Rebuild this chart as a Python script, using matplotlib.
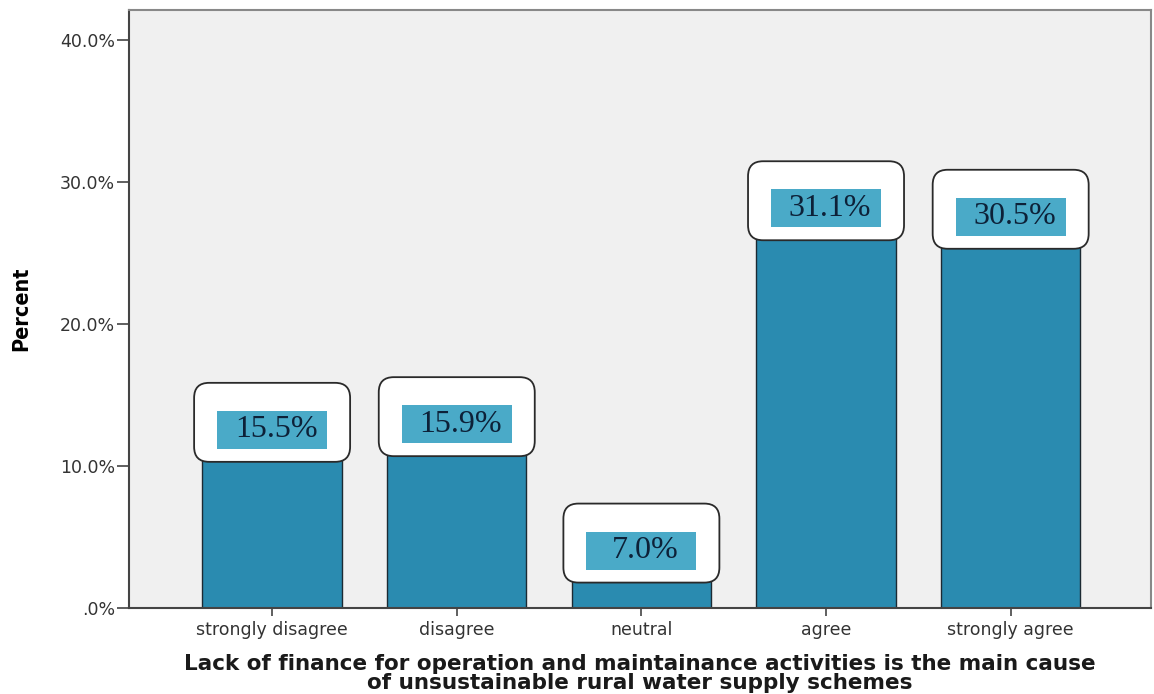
import matplotlib.pyplot as plt
import matplotlib.transforms as mtransforms
from matplotlib.patches import FancyBboxPatch, Rectangle

categories = ["strongly disagree", "disagree", "neutral", "agree", "strongly agree"]
percent = [15.5, 15.9, 7.0, 31.1, 30.5]
yticks = [0, 10, 20, 30, 40]
ytick_labels = [".0%", "10.0%", "20.0%", "30.0%", "40.0%"]

bar_color = "#2a8bb0"
label_fill = "#4aaac8"

plt.rcParams["font.family"] = ["DejaVu Sans"]

fig = plt.figure(figsize=(11.54, 6.94), dpi=100)
ax = fig.add_axes([0.1118, 0.1239, 0.8856, 0.8617])
ax.set_facecolor("#f0f0f0")

x = list(range(len(categories)))
ax.bar(x, percent, width=0.755, color=bar_color, edgecolor="#1c2a33", linewidth=1.0, zorder=2)

ax.set_xlim(-0.775, 4.76)
ax.set_ylim(0, 42.1)
ax.set_xticks(x)
ax.set_xticklabels(categories, fontsize=12.5, color="#333333")
ax.set_yticks(yticks)
ax.set_yticklabels(ytick_labels, fontsize=12.5, color="#333333")
ax.tick_params(axis="both", direction="out", width=1.2, color="#444444")
ax.tick_params(axis="x", length=6, pad=3)
ax.tick_params(axis="y", length=9, pad=1)

for side in ["left", "bottom"]:
    ax.spines[side].set_color("#444444")
    ax.spines[side].set_linewidth(1.5)
for side in ["top", "right"]:
    ax.spines[side].set_color("#888888")
    ax.spines[side].set_linewidth(1.5)

ax.set_ylabel("Percent", fontsize=15.5, fontweight="bold", fontstretch="condensed")
ax.yaxis.set_label_coords(-0.096, 0.5)
ax.set_xlabel("Lack of finance for operation and maintainance activities is the main cause\n"
              "of unsustainable rural water supply schemes",
              fontsize=15.5, fontweight="bold", color="#1a1a1a", linespacing=0.98, labelpad=11)

# value labels: white rounded box with a blue strip, sized in inches
# and anchored to the top of each bar
for xi, v in zip(x, percent):
    trans = fig.dpi_scale_trans + mtransforms.ScaledTranslation(xi, v, ax.transData)
    outer = FancyBboxPatch((-0.78, -0.74), 1.56, 0.79,
                           boxstyle="round,pad=0,rounding_size=0.15",
                           facecolor="white", edgecolor="#2a2a2a", linewidth=1.3,
                           transform=trans, zorder=3)
    ax.add_patch(outer)
    inner = Rectangle((-0.55, -0.61), 1.10, 0.38, facecolor=label_fill,
                      edgecolor="none", transform=trans, zorder=4)
    ax.add_patch(inner)
    ax.text(0.04, -0.42, f"{v:.1f}%", transform=trans, ha="center", va="center",
            fontsize=23, family="Liberation Serif", color="#0d2138", zorder=5)

fig.savefig("out.png", dpi=100)
